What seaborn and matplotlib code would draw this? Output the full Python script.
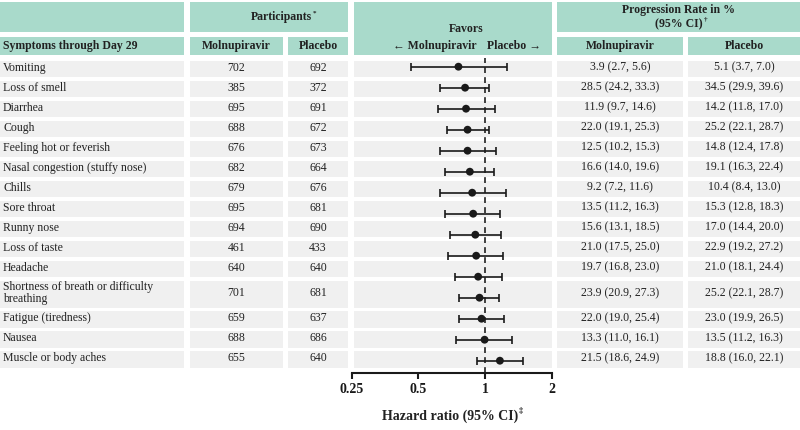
import matplotlib
matplotlib.use("Agg")
import matplotlib.pyplot as plt
from matplotlib.patches import Rectangle
from matplotlib.ticker import NullLocator
import seaborn as sns
import pandas as pd

# Datos de la tabla
symptoms = ["Vomiting", "Loss of smell", "Diarrhea", "Cough", "Feeling hot or feverish",
            "Nasal congestion (stuffy nose)", "Chills", "Sore throat", "Runny nose",
            "Loss of taste", "Headache", "Shortness of breath or difficulty\nbreathing",
            "Fatigue (tiredness)", "Nausea", "Muscle or body aches"]
n_mol = [702, 385, 695, 688, 676, 682, 679, 695, 694, 461, 640, 701, 659, 688, 655]
n_pla = [692, 372, 691, 672, 673, 664, 676, 681, 690, 433, 640, 681, 637, 686, 640]

mol_rate = [3.9, 28.5, 11.9, 22.0, 12.5, 16.6, 9.2, 13.5, 15.6, 21.0, 19.7, 23.9, 22.0, 13.3, 21.5]
mol_lo = [2.7, 24.2, 9.7, 19.1, 10.2, 14.0, 7.2, 11.2, 13.1, 17.5, 16.8, 20.9, 19.0, 11.0, 18.6]
mol_hi = [5.6, 33.3, 14.6, 25.3, 15.3, 19.6, 11.6, 16.3, 18.5, 25.0, 23.0, 27.3, 25.4, 16.1, 24.9]
pla_rate = [5.1, 34.5, 14.2, 25.2, 14.8, 19.1, 10.4, 15.3, 17.0, 22.9, 21.0, 25.2, 23.0, 13.5, 18.8]
pla_lo = [3.7, 29.9, 11.8, 22.1, 12.4, 16.3, 8.4, 12.8, 14.4, 19.2, 18.1, 22.1, 19.9, 11.2, 16.0]
pla_hi = [7.0, 39.6, 17.0, 28.7, 17.8, 22.4, 13.0, 18.3, 20.0, 27.2, 24.4, 28.7, 26.5, 16.3, 22.1]

# Hazard ratio (estimado desde la figura)
hr = [0.758, 0.812, 0.820, 0.833, 0.833, 0.853, 0.874, 0.883, 0.903, 0.911, 0.930, 0.943, 0.963, 0.994, 1.165]
hr_lo = [0.461, 0.623, 0.612, 0.672, 0.623, 0.662, 0.623, 0.662, 0.691, 0.679, 0.732, 0.763, 0.763, 0.740, 0.915]
hr_hi = [1.250, 1.040, 1.106, 1.040, 1.114, 1.100, 1.236, 1.165, 1.177, 1.206, 1.193, 1.160, 1.214, 1.320, 1.480]
hr_ticks = [0.25, 0.5, 1, 2]

sns.set_theme(style="white")
plt.rcParams["font.family"] = ["Liberation Serif", "DejaVu Serif"]

TEAL = "#a9dacb"
GRAY = "#f0f0f0"
INK = "#222222"

fig = plt.figure(figsize=(8, 4.3), dpi=100)
bg = fig.add_axes([0, 0, 1, 1])
bg.set_xlim(0, 800)
bg.set_ylim(430, 0)
bg.axis("off")
renderer = fig.canvas.get_renderer()

cols = [(0, 184), (190, 283), (288, 348), (354, 552), (557, 683), (688, 800)]


def cell(x0, x1, y0, y1, color):
    bg.add_patch(Rectangle((x0, y0), x1 - x0, y1 - y0, facecolor=color, lw=0, zorder=0))


def sup_label(x, y, main, sup, size):
    t = bg.text(0, y, main, fontsize=size, fontweight="bold", va="center", ha="left", color=INK)
    s = bg.text(0, y - size * 1.389 * 0.35, sup, fontsize=size * 0.6, fontweight="bold",
                va="center", ha="left", color=INK)
    w1 = t.get_window_extent(renderer=renderer).width
    w2 = s.get_window_extent(renderer=renderer).width
    x0 = x - (w1 + w2) / 2
    t.set_x(x0)
    s.set_x(x0 + w1 + 0.5)


# Encabezados
cell(0, 184, 2, 32, TEAL)
cell(190, 348, 2, 32, TEAL)
cell(557, 800, 2, 32, TEAL)
cell(354, 552, 2, 55, TEAL)
for i in [0, 1, 2, 4, 5]:
    cell(cols[i][0], cols[i][1], 37, 55, TEAL)

hfs = 8.5
sup_label(283, 17, "Participants", "*", hfs)
bg.text(678.5, 10.5, "Progression Rate in %", fontsize=hfs, fontweight="bold", ha="center", va="center", color=INK)
sup_label(681, 24, "(95% CI)", "\u2020", hfs)
bg.text(466, 28.5, "Favors", fontsize=hfs, fontweight="bold", ha="center", va="center", color=INK)
bg.text(477, 46, "\u2190 Molnupiravir", fontsize=hfs, fontweight="bold", ha="right", va="center", color=INK)
bg.text(487, 46, "Placebo \u2192", fontsize=hfs, fontweight="bold", ha="left", va="center", color=INK)
bg.text(3, 46, "Symptoms through Day 29", fontsize=hfs, fontweight="bold", ha="left", va="center", color=INK)
for i, lab in [(1, "Molnupiravir"), (2, "Placebo"), (4, "Molnupiravir"), (5, "Placebo")]:
    bg.text(sum(cols[i]) / 2, 46, lab, fontsize=hfs, fontweight="bold", ha="center", va="center", color=INK)

# Filas de la tabla
y = 60.5
for k, name in enumerate(symptoms):
    h = 27 if "\n" in name else 16.5
    for c in cols:
        cell(c[0], c[1], y, y + h, GRAY)
    yc = y + h / 2 - 1
    bg.text(3, yc, name, fontsize=8.5, ha="left", va="center", color=INK, linespacing=1.0)
    bg.text(sum(cols[1]) / 2, yc, str(n_mol[k]), fontsize=8.5, ha="center", va="center", color=INK)
    bg.text(sum(cols[2]) / 2, yc, str(n_pla[k]), fontsize=8.5, ha="center", va="center", color=INK)
    bg.text(sum(cols[4]) / 2, yc, f"{mol_rate[k]:.1f} ({mol_lo[k]:.1f}, {mol_hi[k]:.1f})",
            fontsize=8.5, ha="center", va="center", color=INK)
    bg.text(sum(cols[5]) / 2, yc, f"{pla_rate[k]:.1f} ({pla_lo[k]:.1f}, {pla_hi[k]:.1f})",
            fontsize=8.5, ha="center", va="center", color=INK)
    y += h + 3.5

# Forest plot
ax = fig.add_axes([351.5 / 800, (430 - 372.7) / 430, 200.5 / 800, (372.7 - 58) / 430])
ax.patch.set_alpha(0)
df = pd.DataFrame({"hr": hr, "lo": hr_lo, "hi": hr_hi, "pos": range(len(symptoms))})
ax.set_xscale("log", base=2)
ax.axvline(1, color=INK, lw=1.2, ls=(0, (3.5, 2.5)), zorder=1)
ax.errorbar(df["hr"], df["pos"], xerr=[df["hr"] - df["lo"], df["hi"] - df["hr"]], fmt="none",
            ecolor="#1a1a1a", elinewidth=1.2, capsize=2.9, capthick=1.2, zorder=2)
sns.scatterplot(data=df, x="hr", y="pos", ax=ax, s=32, color="#1a1a1a", edgecolor="none",
                zorder=3, legend=False)
ax.set_xlim(0.25, 2)
ax.set_ylim(14.571, -0.414)
ax.set_xticks(hr_ticks)
ax.set_xticklabels(["0.25", "0.5", "1", "2"])
ax.xaxis.set_minor_locator(NullLocator())
ax.set_yticks([])
ax.set_xlabel("")
ax.set_ylabel("")
for sp in ["top", "left", "right"]:
    ax.spines[sp].set_visible(False)
ax.spines["bottom"].set_linewidth(1.5)
ax.spines["bottom"].set_color("#1a1a1a")
ax.tick_params(axis="x", bottom=True, direction="out", length=4.5, width=1.5, pad=3,
               labelsize=10, colors="#1a1a1a")
for lab in ax.get_xticklabels():
    lab.set_fontweight("bold")

sup_label(452, 416, "Hazard ratio (95% CI)", "\u2021", 10)

fig.savefig("out.png", dpi=100)
